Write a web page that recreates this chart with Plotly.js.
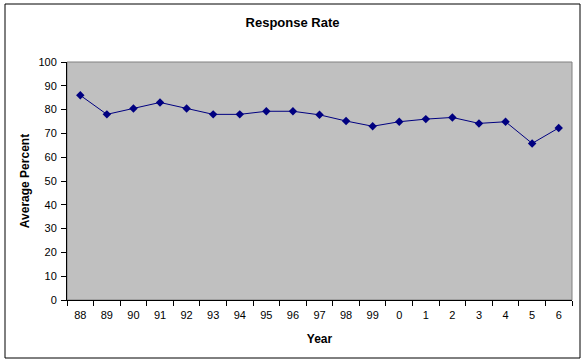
<!DOCTYPE html>
<html>
<head>
<meta charset="utf-8">
<script src="https://cdn.plot.ly/plotly-3.0.1.min.js"></script>
<style>html,body{margin:0;padding:0;background:#fff;}#chart{width:585px;height:364px;}</style>
</head>
<body>
<div id="chart"></div>
<script>
const years = ["88","89","90","91","92","93","94","95","96","97","98","99","0","1","2","3","4","5","6"];
const responseRate = [86, 78, 80.5, 83, 80.5, 78, 78, 79.3, 79.3, 77.8, 75.2, 73, 74.9, 76, 76.7, 74.2, 74.9, 65.8, 72.3];
const yTicks = [0,10,20,30,40,50,60,70,80,90,100];

const W = 505, H = 238;
const data = [{
  x: years, y: responseRate, type: 'scatter', mode: 'lines+markers',
  line: {color: '#000080', width: 1},
  marker: {symbol: 'diamond', size: 6.5, color: '#000080'},
  hoverinfo: 'skip'
}];
const layout = {
  width: 585, height: 364,
  margin: {l: 67, r: 13, t: 62, b: 64},
  paper_bgcolor: '#ffffff', plot_bgcolor: '#c0c0c0',
  showlegend: false,
  font: {family: 'Liberation Sans, Arial, sans-serif', size: 11, color: '#000'},
  title: {text: '<b>Response Rate</b>', font: {size: 13}, x: 0.5, xanchor: 'center', y: 1 - 22/364, yanchor: 'middle'},
  xaxis: {
    type: 'category', range: [-0.5, years.length - 0.5],
    tickson: 'boundaries', ticks: 'outside', ticklen: 5, tickcolor: '#000',
    showline: true, linecolor: '#000', linewidth: 1, showgrid: false, zeroline: false,
    tickfont: {size: 11}, ticklabelstandoff: 5,
    title: {text: '<b>Year</b>', font: {size: 12}, standoff: 14}
  },
  yaxis: {
    range: [0, 100], tickvals: yTicks, ticktext: yTicks.map(String),
    ticks: 'outside', ticklen: 5, tickcolor: '#000',
    showline: true, linecolor: '#000', linewidth: 1, showgrid: false, zeroline: false,
    tickfont: {size: 11}, ticklabelstandoff: 2,
    title: {text: '<b>Average Percent</b>', font: {size: 12}, standoff: 6}
  },
  shapes: [
    {type: 'rect', xref: 'paper', yref: 'paper', x0: 0, x1: 1, y0: 0, y1: 1,
     line: {color: '#808080', width: 1}, fillcolor: 'rgba(0,0,0,0)', layer: 'below'},
    {type: 'rect', xref: 'paper', yref: 'paper',
     x0: (5-67)/W, x1: (580-67)/W, y0: (300-358)/H, y1: (300-4)/H,
     line: {color: '#000', width: 1}, fillcolor: 'rgba(0,0,0,0)'}
  ]
};
Plotly.newPlot('chart', data, layout, {staticPlot: true, displayModeBar: false});
</script>
</body>
</html>
